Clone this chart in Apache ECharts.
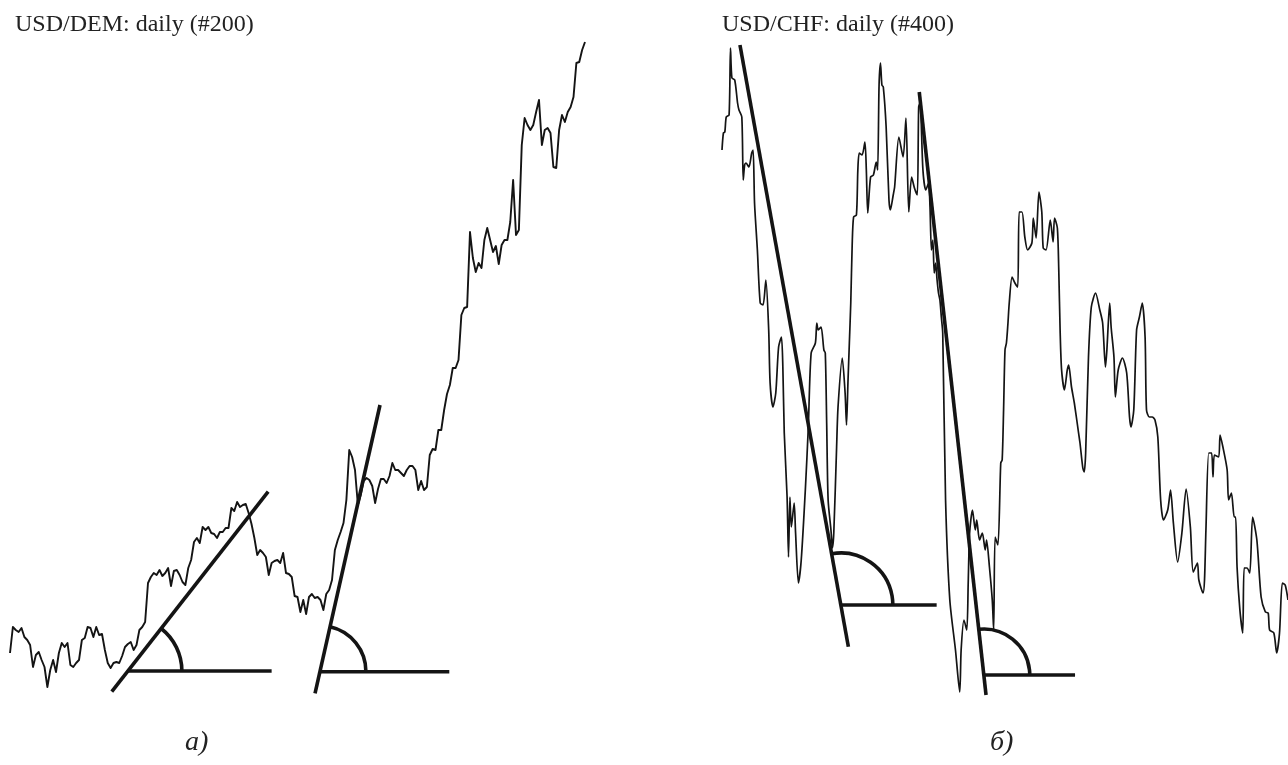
<!DOCTYPE html>
<html>
<head>
<meta charset="utf-8">
<script src="https://cdn.jsdelivr.net/npm/echarts@6/dist/echarts.min.js"></script>
<style>
  html, body { margin: 0; padding: 0; background: #fff; }
  #chart { width: 1288px; height: 765px; }
</style>
</head>
<body>
<div id="chart"></div>
<script>
// USD/DEM daily closes, one level per trading day (day = index)
const demLevels = [
  47, 73, 70, 68, 72, 63, 60, 55, 33, 45, 48, 40, 33, 13, 30, 40, 28, 47, 57, 53,
  57, 35, 33, 37, 40, 60, 62, 73, 72, 63, 73, 65, 66, 50, 37, 32, 37, 38, 37, 44,
  53, 56, 58, 50, 55, 70, 73, 78, 117, 123, 127, 125, 130, 124, 127, 132, 114, 129, 130, 125,
  118, 115, 132, 140, 158, 162, 157, 173, 170, 173, 167, 166, 162, 168, 168, 172, 172, 192, 189, 198,
  193, 195, 196, 187, 176, 162, 145, 150, 147, 143, 125, 137, 139, 140, 137, 147, 127, 126, 123, 104,
  103, 88, 100, 86, 103, 106, 102, 103, 100, 90, 106, 110, 120, 150, 160, 168, 177, 200, 250, 243,
  230, 195, 205, 219, 222, 220, 214, 197, 211, 221, 221, 217, 224, 237, 230, 230, 227, 224, 230, 234,
  234, 230, 210, 219, 210, 213, 245, 251, 250, 270, 270, 290, 306, 315, 332, 332, 340, 385, 392, 393,
  468, 442, 428, 437, 432, 460, 472, 460, 448, 454, 436, 455, 460, 460, 478, 520, 465, 470, 555, 582,
  575, 570, 575, 588, 600, 555, 570, 572, 567, 533, 532, 570, 585, 578, 588, 593, 603, 637, 638, 650,
  658
];

// USD/CHF daily closes: trading-day number and level
const chfDays = [
  0, 1, 2, 3, 5, 6, 7, 9, 11, 12, 14, 15, 16, 17, 19, 21, 22, 23, 25, 27,
  29, 31, 33, 34, 36, 38, 40, 42, 43, 44, 46, 47, 48, 49, 51, 52, 54, 56, 59, 61,
  63, 66, 67, 68, 70, 72, 73, 74, 75, 77, 78, 79, 81, 82, 85, 87, 88, 89, 90, 91,
  92, 93, 95, 96, 97, 99, 101, 102, 103, 105, 107, 109, 110, 111, 112, 113, 114, 116, 118, 119,
  121, 122, 125, 128, 130, 132, 134, 136, 138, 139, 140, 142, 144, 146, 147, 148, 149, 150, 151, 152,
  153, 154, 155, 156, 158, 161, 165, 168, 169, 171, 173, 174, 175, 177, 179, 180, 182, 184, 186, 187,
  189, 191, 192, 193, 195, 197, 198, 199, 200, 201, 202, 203, 205, 207, 209, 210, 212, 214, 216, 219,
  220, 222, 224, 226, 227, 229, 232, 234, 235, 237, 238, 239, 240, 242, 244, 245, 247, 249, 252, 253,
  255, 256, 257, 259, 261, 264, 267, 269, 271, 272, 274, 275, 277, 278, 280, 283, 286, 288, 289, 291,
  293, 295, 297, 299, 300, 302, 304, 306, 308, 310, 312, 315, 317, 319, 322, 325, 328, 331, 333, 336,
  337, 340, 341, 342, 344, 346, 347, 348, 351, 352, 354, 357, 358, 360, 362, 363, 364, 366, 368, 369,
  371, 373, 375, 378, 381, 384, 386, 387, 390, 392, 394, 396, 398, 400
];
const chfLevels = [
  550, 567, 568, 583, 585, 652, 622, 620, 597, 590, 583, 520, 535, 537, 533, 547, 550, 497, 450, 397,
  395, 420, 370, 317, 293, 307, 353, 363, 333, 267, 203, 143, 203, 173, 197, 167, 117, 140, 213, 273,
  347, 357, 377, 370, 373, 350, 347, 275, 200, 170, 152, 167, 253, 293, 342, 307, 275, 317, 357, 397,
  455, 483, 485, 530, 547, 545, 558, 530, 487, 523, 525, 538, 530, 615, 637, 615, 613, 573, 500, 490,
  505, 513, 563, 543, 582, 488, 523, 512, 505, 593, 597, 530, 510, 517, 493, 450, 460, 427, 437, 420,
  407, 400, 383, 367, 200, 100, 50, 8, 50, 80, 70, 117, 167, 190, 170, 180, 160, 167, 150, 160,
  133, 100, 70, 163, 155, 237, 240, 290, 350, 357, 375, 397, 423, 417, 413, 488, 488, 463, 450, 457,
  482, 462, 508, 488, 452, 450, 480, 458, 482, 472, 430, 367, 330, 310, 330, 335, 313, 297, 267, 257,
  232, 228, 247, 343, 393, 407, 390, 377, 333, 350, 397, 373, 343, 303, 330, 342, 327, 283, 273, 290,
  370, 383, 397, 363, 290, 283, 283, 280, 263, 200, 180, 190, 210, 177, 138, 167, 211, 173, 128, 137,
  120, 107, 120, 170, 247, 247, 223, 245, 243, 265, 253, 230, 200, 207, 183, 183, 133, 90, 67, 132,
  132, 127, 183, 160, 103, 88, 87, 70, 67, 47, 67, 117, 115, 100
];

// Trend lines [[day, level], [day, level]] and their horizontal bases
const demTrends = [
  [[35.4, 8.3], [89.8, 208.3]],
  [[106.1, 6.7], [128.7, 295]]
];
const demBases = [
  [[41.0, 29], [91.0, 29]],
  [[107.8, 28.3], [152.8, 28.3]]
];
const chfTrends = [
  [[12.7, 655], [89.3, 53.3]],
  [[139.4, 608], [186.6, 5]]
];
const chfBases = [
  [[84.0, 95], [151.7, 95]],
  [[185.0, 25], [249.5, 25]]
];

const panelTitles = ['USD/DEM: daily (#200)', 'USD/CHF: daily (#400)'];
const panelLetters = ['a)', 'б)'];

// ---- styling ----
const INK = '#141414';
const PRICE_WIDTH = [1.9, 1.7];
const PRICE_SMOOTH = [false, 0.25];
const TREND_WIDTH = 3.6;
const ARC_RADII = [[54, 46], [52, 46]];
const SERIF = '"Liberation Serif", "DejaVu Serif", serif';

const demData = demLevels.map((v, i) => [i, v]);
const chfData = chfDays.map((d, i) => [d, chfLevels[i]]);

function segmentSeries(segs, axis) {
  return segs.map(seg => ({
    type: 'line',
    xAxisIndex: axis, yAxisIndex: axis,
    data: seg,
    symbol: 'none',
    silent: true,
    clip: false,
    lineStyle: { color: INK, width: TREND_WIDTH, cap: 'butt' },
    z: 3
  }));
}

// angle arc between the trend line and its horizontal base, drawn at the vertex
function arcSeries(trends, bases, axis) {
  const data = bases.map((b, k) => {
    const t = trends[k];
    // far end of the trend line = the point higher up
    const far = t[0][1] > t[1][1] ? t[0] : t[1];
    return [b[0][0], b[0][1], far[0], far[1]];
  });
  return {
    type: 'custom',
    xAxisIndex: axis, yAxisIndex: axis,
    coordinateSystem: 'cartesian2d',
    silent: true,
    clip: false,
    encode: { x: [0, 2], y: [1, 3] },
    data: data,
    z: 3,
    renderItem: function (params, api) {
      const v = api.coord([api.value(0), api.value(1)]);
      const p = api.coord([api.value(2), api.value(3)]);
      const a = Math.atan2(p[1] - v[1], p[0] - v[0]);
      return {
        type: 'arc',
        shape: { cx: v[0], cy: v[1], r: ARC_RADII[axis][params.dataIndex], startAngle: a, endAngle: 0, clockwise: true },
        style: { stroke: INK, fill: 'none', lineWidth: TREND_WIDTH }
      };
    }
  };
}

const chart = echarts.init(document.getElementById('chart'), null, { renderer: 'canvas' });

const titleStyle = { fontFamily: SERIF, fontSize: 24, fontWeight: 'normal', color: '#222' };
const letterStyle = { fontFamily: SERIF, fontSize: 28, fontStyle: 'italic', fontWeight: 'normal', color: '#222' };

chart.setOption({
  animation: false,
  backgroundColor: '#ffffff',
  title: [
    { text: panelTitles[0], left: 10, top: 8, textStyle: titleStyle },
    { text: panelTitles[1], left: 717, top: 8, textStyle: titleStyle },
    { text: panelLetters[0], left: 180, top: 724, textStyle: letterStyle },
    { text: panelLetters[1], left: 985, top: 724, textStyle: letterStyle }
  ],
  grid: [
    { left: 10, top: 0, width: 575, height: 700 },
    { left: 722, top: 0, width: 566, height: 700 }
  ],
  xAxis: [
    { type: 'value', gridIndex: 0, min: 0, max: 200, show: false },
    { type: 'value', gridIndex: 1, min: 0, max: 400, show: false }
  ],
  yAxis: [
    { type: 'value', gridIndex: 0, min: 0, max: 700, show: false },
    { type: 'value', gridIndex: 1, min: 0, max: 700, show: false }
  ],
  series: [
    {
      type: 'line', xAxisIndex: 0, yAxisIndex: 0, data: demData, symbol: 'none', silent: true,
      smooth: PRICE_SMOOTH[0],
      lineStyle: { color: INK, width: PRICE_WIDTH[0], join: 'round' }, z: 2
    },
    {
      type: 'line', xAxisIndex: 1, yAxisIndex: 1, data: chfData, symbol: 'none', silent: true, clip: false,
      smooth: PRICE_SMOOTH[1],
      lineStyle: { color: INK, width: PRICE_WIDTH[1], join: 'round' }, z: 2
    },
    ...segmentSeries(demTrends, 0),
    ...segmentSeries(demBases, 0),
    ...segmentSeries(chfTrends, 1),
    ...segmentSeries(chfBases, 1),
    arcSeries(demTrends, demBases, 0),
    arcSeries(chfTrends, chfBases, 1)
  ]
});
</script>
</body>
</html>
